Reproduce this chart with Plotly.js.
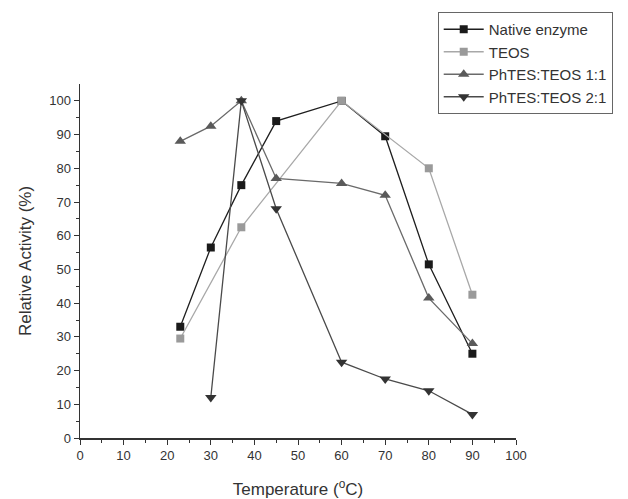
<!DOCTYPE html>
<html>
<head>
<meta charset="utf-8">
<script src="https://cdn.plot.ly/plotly-3.0.1.min.js"></script>
<style>html,body{margin:0;padding:0;background:#fff;}#chart{width:628px;height:499px;}</style>
</head>
<body>
<div id="chart"></div>
<script>
const nativeT = [23, 30, 37, 45, 60, 70, 80, 90];
const nativeA = [33, 56.5, 75, 94, 100, 89.5, 51.5, 25];
const teosT = [23, 37, 60, 80, 90];
const teosA = [29.5, 62.5, 100, 80, 42.5];
const ph11T = [23, 30, 37, 45, 60, 70, 80, 90];
const ph11A = [88, 92.5, 100, 77, 75.5, 72, 41.5, 28];
const ph21T = [30, 37, 45, 60, 70, 80, 90];
const ph21A = [12, 100, 68, 22.5, 17.5, 14, 7];
const names = ['Native enzyme', 'TEOS', 'PhTES:TEOS 1:1', 'PhTES:TEOS 2:1'];

const traces = [
  {x: nativeT, y: nativeA, name: names[0], mode: 'lines+markers',
   line: {color: '#1e1e1e', width: 1.3}, marker: {symbol: 'square', size: 8, color: '#1a1a1a'}},
  {x: teosT, y: teosA, name: names[1], mode: 'lines+markers',
   line: {color: '#a8a8a8', width: 1.3}, marker: {symbol: 'square', size: 8, color: '#9a9a9a'}},
  {x: ph11T, y: ph11A, name: names[2], mode: 'lines+markers',
   line: {color: '#6a6a6a', width: 1.3}, marker: {symbol: 'triangle-up', size: 10, color: '#5a5a5a'}},
  {x: ph21T, y: ph21A, name: names[3], mode: 'lines+markers',
   line: {color: '#4a4a4a', width: 1.3}, marker: {symbol: 'triangle-down', size: 10, color: '#333'}}
];

const tickFont = {family: 'Liberation Sans, Arial, sans-serif', size: 13, color: '#333'};
const layout = {
  width: 628, height: 499,
  margin: {l: 80, r: 112, t: 84, b: 61, autoexpand: false},
  paper_bgcolor: '#fff', plot_bgcolor: '#fff',
  font: {family: 'Liberation Sans, Arial, sans-serif', color: '#333'},
  showlegend: true,
  legend: {xref: 'container', yref: 'container', x: 0.697, y: 0.976, xanchor: 'left', yanchor: 'top',
    bordercolor: '#666', borderwidth: 1, bgcolor: '#fff',
    font: {size: 15, color: '#333'}, tracegroupgap: 0, itemwidth: 40},
  xaxis: {
    range: [0, 100], dtick: 10, ticks: 'outside', ticklen: 5, tickcolor: '#333',
    showline: true, linecolor: '#333', linewidth: 1.5, showgrid: false, zeroline: false,
    tickfont: tickFont, automargin: false,
    minor: {dtick: 5, ticks: 'outside', ticklen: 3, tickcolor: '#333', showgrid: false},
    title: {text: 'Temperature (<sup>o</sup>C)', font: {size: 17, color: '#333'}, standoff: 22}
  },
  yaxis: {
    range: [0, 105], tickvals: [0,10,20,30,40,50,60,70,80,90,100], ticks: 'outside', ticklen: 5, tickcolor: '#333',
    showline: true, linecolor: '#333', linewidth: 1.5, showgrid: false, zeroline: false,
    tickfont: tickFont, automargin: false,
    minor: {tickvals: [5,15,25,35,45,55,65,75,85,95], ticks: 'outside', ticklen: 3, tickcolor: '#333', showgrid: false},
    title: {text: 'Relative Activity (%)', font: {size: 17, color: '#333'}, standoff: 13}
  }
};
Plotly.newPlot('chart', traces, layout, {displayModeBar: false, staticPlot: true});
</script>
</body>
</html>
